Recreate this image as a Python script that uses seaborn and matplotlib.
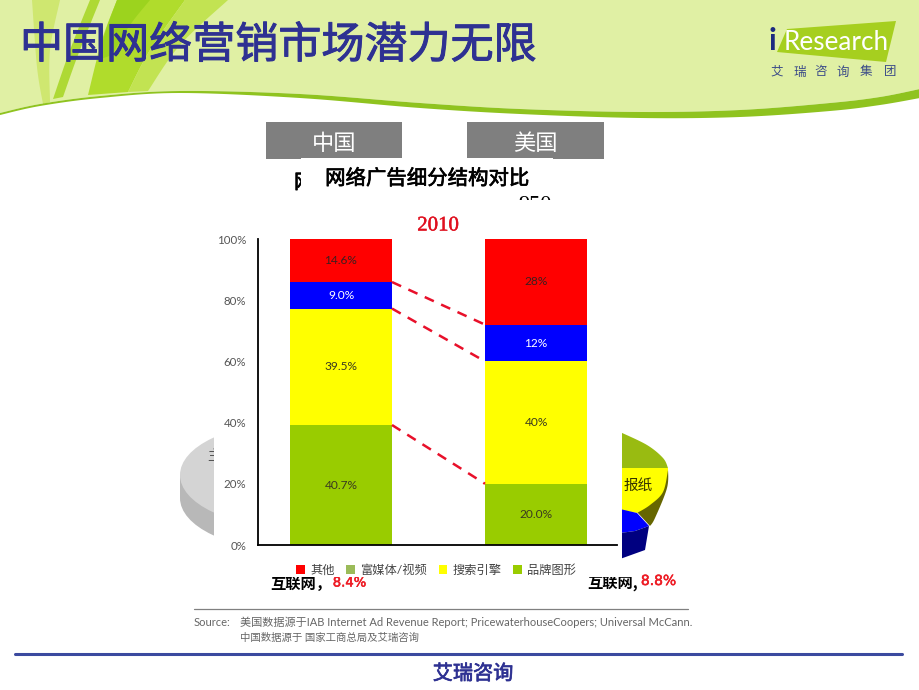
import matplotlib
matplotlib.use('Agg')
import matplotlib.pyplot as plt
import matplotlib.patheffects as pe
from matplotlib.patches import Ellipse, Patch, Polygon, Rectangle
from matplotlib.ticker import FuncFormatter
import numpy as np
import seaborn as sns

# Values as printed; the China column adds up to 103.8 and gets stretched to 100%
markets = ['中国', '美国']
segments = ['品牌图形', '搜索引擎', '富媒体/视频', '其他']
china_values = [40.7, 39.5, 9.0, 14.6]
us_values = [20.0, 40.0, 12.0, 28.0]
china_labels = ['40.7%', '39.5%', '9.0%', '14.6%']
us_labels = ['20.0%', '40%', '12%', '28%']
bar_colors = ['#99cc00', '#ffff00', '#0000ff', '#ff0000']
label_colors = ['#3a3a20', '#3a3a20', 'white', '#3a2020']

legend_names = ['其他', '富媒体/视频', '搜索引擎', '品牌图形']
legend_colors = ['#ff0000', '#9bbb59', '#ffff00', '#99cc00']

NAVY = '#2e3192'
W, H = 920, 690

sns.set_theme(style='white')
plt.rcParams['font.family'] = ['Noto Sans CJK SC', 'DejaVu Sans']
LATIN = ['Lato', 'Noto Sans CJK SC']
SERIF = ['Liberation Serif', 'Noto Sans CJK SC']

fig = plt.figure(figsize=(W / 100, H / 100), dpi=100, facecolor='white')

# Slide furniture lives on a full-figure axes in pixel coordinates
bg = fig.add_axes([0, 0, 1, 1], zorder=0)
bg.set_xlim(0, W)
bg.set_ylim(H, 0)
bg.axis('off')


def poly(points, color, z=1):
    bg.add_patch(Polygon(points, closed=True, facecolor=color, edgecolor='none', zorder=z))


def smooth(points, n=12):
    # Catmull-Rom through the outline points, only used for the header shapes
    p = np.array([points[0]] + list(points) + [points[-1]], dtype=float)
    out = []
    for a, b, c, d in zip(p[:-3], p[1:-2], p[2:-1], p[3:]):
        for t in np.linspace(0, 1, n, endpoint=False):
            out.append(0.5 * (2 * b + (c - a) * t + (2 * a - 5 * b + 4 * c - d) * t ** 2
                              + (3 * b - a - 3 * c + d) * t ** 3))
    out.append(p[-2])
    return [tuple(q) for q in out]


def stroke(width, color):
    return [pe.withStroke(linewidth=width, foreground=color)]


# header
wave_top = smooth([(0, 113), (40, 104), (100, 96), (180, 91), (300, 94), (420, 103), (520, 109),
                   (640, 112), (740, 110), (830, 103), (880, 97), (920, 89)])
wave_low = smooth([(920, 98), (880, 105), (830, 111), (740, 117), (640, 118), (520, 114), (420, 108),
                   (300, 98), (180, 93), (100, 98), (40, 106), (0, 115)])
poly([(0, 0), (W, 0)] + wave_top[::-1], '#e0f0a4')
poly(smooth([(32, 0), (37, 67), (43, 104)]) + smooth([(50, 102), (50, 50), (60, 0)]), '#cfe770', 2)
poly(smooth([(90, 0), (70, 50), (53, 99)]) + smooth([(63, 97), (78, 55), (100, 0)]), '#aed935', 2)
poly(smooth([(117, 0), (102, 40), (88, 95)]) + smooth([(128, 92), (150, 50), (185, 0)]), '#b0dc2c', 2)
poly(smooth([(117, 0), (106, 30), (98, 60)]) + smooth([(112, 55), (130, 25), (150, 0)]), '#9cd31e', 2)
poly(smooth([(185, 0), (150, 50), (128, 92)]) + smooth([(148, 91), (180, 45), (228, 0)]), '#c2e352', 2)
poly(wave_top + wave_low, '#8fc31f', 3)

bg.text(20, 46, '中国网络营销市场潜力无限', fontsize=31, color=NAVY, ha='left', va='center', zorder=5,
        path_effects=stroke(0.7, NAVY))

# logo
poly([(787, 29), (896, 21), (886, 62), (777, 52)], '#a6cf1f', 3)
bg.text(784, 43, 'Research', fontsize=18.8, color='white', family=LATIN,
        ha='left', va='center', zorder=5)
bg.text(772, 41, 'i', fontsize=22, color='#1c2a80', family=LATIN, fontweight='bold',
        ha='center', va='center', zorder=5)
for cx, ch in zip([777, 800, 821, 843, 866, 890], '艾瑞咨询集团'):
    bg.text(cx, 72, ch, fontsize=9, color='#3a4a88', ha='center', va='center', zorder=5)

# pies left over behind the chart panel
bg.add_patch(Ellipse((290, 498), 220, 104, facecolor='#b8b8b8', edgecolor='none', zorder=1))
bg.add_patch(Rectangle((180, 475), 40, 23, facecolor='#b8b8b8', edgecolor='none', zorder=1))
bg.add_patch(Ellipse((290, 475), 220, 104, facecolor='#d4d4d4', edgecolor='none', zorder=1))
bg.text(214, 456, '主', fontsize=10, color='#555555', ha='center', va='center', zorder=2)
poly(smooth([(620, 432), (647, 445), (663, 458), (668, 468)]) + [(620, 468)], '#99bb11')
poly(smooth([(668, 468), (667, 488), (655, 518), (650, 526)]) + [(637, 512)], '#666600')
poly([(620, 468), (668, 468)] + smooth([(668, 470), (663, 492), (650, 505), (637, 513)]) + [(620, 510)],
     '#ffff00')
poly([(620, 509), (637, 513), (649, 526), (635, 531), (620, 533)], '#0000ff')
poly([(620, 533), (635, 531), (649, 526), (645, 550), (620, 559)], '#000080')
bg.text(638, 486, '报纸', fontsize=10.5, color='#333300', ha='center', va='center', zorder=2)

# text that the panel in front cuts off
bg.text(294, 183, '网', fontsize=14.5, color='black', ha='left', va='center', zorder=1.5,
        path_effects=stroke(0.5, 'black'))
bg.text(535, 206, '950', fontsize=16, color='black', family=SERIF, ha='center', va='center', zorder=1.5)
bg.text(270, 583.5, '互联网，', fontsize=11, fontweight='bold', color='black', ha='left', va='center', zorder=1.5)
bg.text(349.5, 583, '8.4%', fontsize=9.5, color='#ee1c25', family='DejaVu Sans',
        ha='center', va='center', zorder=1.5, path_effects=stroke(0.4, '#ee1c25'))
bg.text(587, 583, '互联网,', fontsize=11, fontweight='bold', color='black', ha='left', va='center', zorder=1.5)

# grey market tabs
bg.add_patch(Rectangle((266, 122), 136, 37, facecolor='#7f7f7f', edgecolor='none', zorder=1))
bg.add_patch(Rectangle((467, 122), 137, 37, facecolor='#7f7f7f', edgecolor='none', zorder=1))

# white panels
bg.add_patch(Rectangle((214, 200), 408, 377, facecolor='white', edgecolor='none', zorder=3))
bg.add_patch(Rectangle((622, 560), 18, 17, facecolor='white', edgecolor='none', zorder=3))
bg.add_patch(Rectangle((301, 158), 252, 37, facecolor='white', edgecolor='none', zorder=3))

bg.text(334, 144, markets[0], fontsize=16, color='white', ha='center', va='center', zorder=5)
bg.text(535, 144, markets[1], fontsize=16, color='white', ha='center', va='center', zorder=5)
bg.text(427, 179, '网络广告细分结构对比', fontsize=14.7, color='black', ha='center', va='center', zorder=5,
        path_effects=stroke(0.5, 'black'))
bg.text(438, 226, '2010', fontsize=15, color='#e0101f', family=SERIF, ha='center', va='center', zorder=5,
        path_effects=stroke(0.3, '#e0101f'))
bg.text(658.5, 581, '8.8%', fontsize=10, color='#ee1c25', family='DejaVu Sans',
        ha='center', va='center', zorder=5, path_effects=stroke(0.4, '#ee1c25'))

# footer
bg.plot([194, 688], [608.5, 608.5], color='#808080', lw=0.9, zorder=2)
bg.text(194, 622, 'Source:', fontsize=8, color='#666666', family=LATIN, ha='left', va='center')
bg.text(240, 622, '美国数据源于IAB Internet Ad Revenue Report; PricewaterhouseCoopers; Universal McCann.',
        fontsize=8, color='#666666', family=LATIN, ha='left', va='center')
bg.text(240, 638, '中国数据源于 国家工商总局及艾瑞咨询', fontsize=7.5, color='#666666', family=LATIN,
        ha='left', va='center')
bg.plot([15, 902], [654, 654], color='#3b4a9f', lw=2.2, zorder=2)
bg.text(473, 674, '艾瑞咨询', fontsize=14.5, color=NAVY, ha='center', va='center',
        path_effects=stroke(0.5, NAVY))

# stacked bars
ax = fig.add_axes([258 / W, 1 - 545 / H, (617 - 258) / W, 306 / H], zorder=2)
ax.patch.set_visible(False)

china_share = np.array(china_values) / sum(china_values) * 100
us_share = np.array(us_values) / sum(us_values) * 100
bottoms = np.zeros(2)
boundaries = []
bar_w = 0.523
for i, seg in enumerate(segments):
    heights = [china_share[i], us_share[i]]
    sns.barplot(x=markets, y=heights, bottom=bottoms, color=bar_colors[i], width=bar_w,
                saturation=1, errorbar=None, linewidth=0, edgecolor='none', ax=ax)
    for j, txt in enumerate([china_labels[i], us_labels[i]]):
        ax.text(j, bottoms[j] + heights[j] / 2, txt, fontsize=8.6, color=label_colors[i],
                family=LATIN, ha='center', va='center')
    bottoms = bottoms + heights
    boundaries.append(bottoms.copy())

# dashed links between the tops of the lower three segments
for top in boundaries[:3]:
    ax.plot([bar_w / 2, 1 - bar_w / 2], top, color='#e8102a', lw=1.8, dashes=(4, 3.2), zorder=4)

ax.set_xlim(-0.4256, 1.415)
ax.set_ylim(0, 100)
ax.set_yticks(range(0, 101, 20))
ax.yaxis.set_major_formatter(FuncFormatter(lambda v, _: f'{v:.0f}%'))
ax.tick_params(axis='y', length=0, pad=8.5, labelsize=8.3, labelcolor='#555555')
for lab in ax.get_yticklabels():
    lab.set_family(LATIN)
ax.set_xticks([])
ax.set_xlabel('')
sns.despine(ax=ax)
for side in ['left', 'bottom']:
    ax.spines[side].set_color('black')
    ax.spines[side].set_linewidth(1.3)

handles = [Patch(facecolor=c, edgecolor='none') for c in legend_colors]
ax.legend(handles, legend_names, loc='upper left', bbox_to_anchor=(0.106, -0.063), ncol=4,
          frameon=False, handlelength=0.7, handleheight=0.7, handletextpad=0.45,
          columnspacing=0.95, borderpad=0, borderaxespad=0, prop={'family': LATIN, 'size': 8.8},
          labelcolor='#444444')

fig.savefig('out.png', dpi=100)
